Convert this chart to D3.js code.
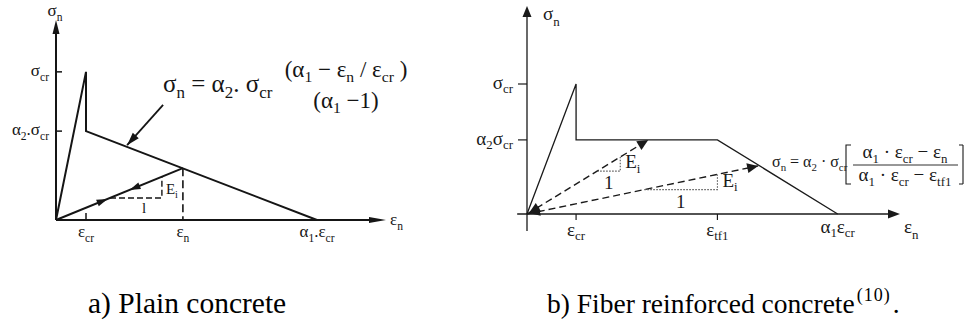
<!DOCTYPE html>
<html>
<head>
<meta charset="utf-8">
<script src="https://cdn.jsdelivr.net/npm/d3@7"></script>
<style>
  @font-face {
    font-family: 'RefSerif';
    src: local('Liberation Serif'), local('LiberationSerif'), local('LiberationSerif-Regular'), local('Tinos'), local('DejaVu Serif');
  }
</style>
</head>
<body style="margin:0">
<div id="chart"></div>
<script>
// strain in units of eps_cr, stress in units of sigma_cr

// a) plain concrete
const plainEnvX = [0, 1, 1, 8.7];
const plainEnvY = [0, 1, 0.6, 0];
const plainUnloadX = [0, 4.23];
const plainUnloadY = [0, 0.35];
const plainSlopeX = [1.8, 3.53];
const plainTickX = [1, 4.23, 8.7];
const plainTickXLabels = [['ε', 'cr'], ['ε', 'n'], ['α', '1', '.ε', 'cr']];
const plainTickY = [1, 0.6];
const plainTickYLabels = [['σ', 'cr'], ['α', '2', '.σ', 'cr']];

// b) fiber reinforced concrete
const fiberEnvX = [0, 1, 1, 3.88, 6.33];
const fiberEnvY = [0, 1, 0.57, 0.57, 0];
const fiberUnloadX = [2.47, 4.71];
const fiberUnloadY = [0.57, 0.37];
const fiberSlopeX = [[1.43, 1.9], [2.39, 3.88]];
const fiberTickX = [1, 3.88, 6.33];
const fiberTickXLabels = [['ε', 'cr'], ['ε', 'tf1'], ['α', '1', 'ε', 'cr']];
const fiberTickY = [1, 0.57];
const fiberTickYLabels = [['σ', 'cr'], ['α', '2', 'σ', 'cr']];

const FONT = "'Liberation Serif', 'RefSerif', serif";
const W = 964, H = 323;
const svg = d3.select('#chart').append('svg')
    .attr('width', W)
    .attr('height', H);

function txt(g, x, y, size) {
    return g.append('text')
        .attr('x', x).attr('y', y)
        .attr('font-size', size)
        .style('font-family', FONT);
}

// text with alternating normal / subscript parts: ['σ','cr'] -> σ_cr
function mathText(g, x, y, parts, size, anchor, subShift) {
    const t = txt(g, x, y, size).attr('text-anchor', anchor || 'start');
    let shift = 0;
    parts.forEach((s, i) => {
        const isSub = i % 2 === 1;
        const target = isSub ? size * (subShift || 0.3) : 0;
        t.append('tspan')
            .attr('dy', target - shift)
            .attr('font-size', isSub ? size * 0.68 : size)
            .text(s);
        shift = target;
    });
    return t;
}

function arrowHead(g, tip, from, len, halfW, color) {
    const dx = tip[0] - from[0], dy = tip[1] - from[1];
    const d = Math.hypot(dx, dy);
    const ux = dx / d, uy = dy / d;
    const bx = tip[0] - ux * len, by = tip[1] - uy * len;
    g.append('path')
        .attr('d', `M${tip[0]},${tip[1]}L${bx - uy * halfW},${by + ux * halfW}L${bx + uy * halfW},${by - ux * halfW}Z`)
        .attr('fill', color || '#111');
}

// ---------- panel a ----------
const gA = svg.append('g').attr('fill', '#151515');
const xA = d3.scaleLinear().domain([0, 11]).range([56, 386]);
const yA = d3.scaleLinear().domain([0, 1.35]).range([220, 20]);
const inkA = '#151515';

// axes
gA.append('line').attr('x1', xA(0)).attr('y1', yA(0)).attr('x2', xA(0)).attr('y2', yA(1.3))
    .attr('stroke', inkA).attr('stroke-width', 2);
arrowHead(gA, [xA(0), yA(1.35)], [xA(0), yA(0)], 14, 3.5, inkA);
gA.append('line').attr('x1', xA(0)).attr('y1', yA(0)).attr('x2', xA(10.8)).attr('y2', yA(0))
    .attr('stroke', inkA).attr('stroke-width', 2);
arrowHead(gA, [xA(11), yA(0)], [xA(0), yA(0)], 17, 3, inkA);

mathText(gA, xA(0) - 1, 16, ['σ', 'n'], 17, 'middle');
mathText(gA, xA(11) + 4, yA(0) + 5, ['ε', 'n'], 17, 'start');

// y ticks
plainTickY.forEach((v, i) => {
    gA.append('line').attr('x1', xA(0)).attr('x2', xA(0) + 6).attr('y1', yA(v)).attr('y2', yA(v))
        .attr('stroke', inkA).attr('stroke-width', 1.5);
    mathText(gA, xA(0) - 7, yA(v) + 4, plainTickYLabels[i], 17, 'end');
});
// x ticks / labels
gA.append('line').attr('x1', xA(plainTickX[0])).attr('x2', xA(plainTickX[0]))
    .attr('y1', yA(0)).attr('y2', yA(0) - 7).attr('stroke', inkA).attr('stroke-width', 1.5);
plainTickX.forEach((v, i) => {
    mathText(gA, xA(v), 237, plainTickXLabels[i], 17, 'middle');
});

// envelope
const lineA = d3.line().x(d => xA(d[0])).y(d => yA(d[1]));
gA.append('path')
    .attr('d', lineA(d3.zip(plainEnvX, plainEnvY)))
    .attr('fill', 'none').attr('stroke', inkA).attr('stroke-width', 2)
    .attr('stroke-linejoin', 'miter');

// unloading / reloading line
const unA = d3.zip(plainUnloadX, plainUnloadY);
gA.append('path').attr('d', lineA(unA))
    .attr('fill', 'none').attr('stroke', inkA).attr('stroke-width', 2);
const onUnA = x => plainUnloadY[1] * x / plainUnloadX[1];
arrowHead(gA, [xA(1.72), yA(onUnA(1.72))], [xA(0), yA(0)], 11, 3.5, inkA);
arrowHead(gA, [xA(2.45), yA(onUnA(2.45))], [xA(4.23), yA(onUnA(4.23))], 11, 3.5, inkA);

// dashed drop at eps_n
gA.append('line')
    .attr('x1', xA(plainUnloadX[1])).attr('x2', xA(plainUnloadX[1]))
    .attr('y1', yA(plainUnloadY[1])).attr('y2', yA(0))
    .attr('stroke', inkA).attr('stroke-width', 1.6).attr('stroke-dasharray', '8,4');

// slope triangle
const sA0 = [plainSlopeX[0], onUnA(plainSlopeX[0])];
gA.append('path')
    .attr('d', lineA([sA0, [plainSlopeX[1], sA0[1]], [plainSlopeX[1], onUnA(plainSlopeX[1])]]))
    .attr('fill', 'none').attr('stroke', inkA).attr('stroke-width', 1.4).attr('stroke-dasharray', '6,3');
mathText(gA, xA(plainSlopeX[1]) + 4, yA(sA0[1]) - 4, ['E', 'i'], 15, 'start', 0.25);
txt(gA, (xA(plainSlopeX[0]) + xA(plainSlopeX[1])) / 2 + 6, yA(sA0[1]) + 15, 15).text('l');

// pointer arrow to softening branch
const ptrTail = [3.57, 0.777], ptrHead = [2.37, 0.505];
gA.append('line').attr('x1', xA(ptrTail[0])).attr('y1', yA(ptrTail[1]))
    .attr('x2', xA(ptrHead[0])).attr('y2', yA(ptrHead[1]))
    .attr('stroke', inkA).attr('stroke-width', 1.8);
arrowHead(gA, [xA(ptrHead[0]), yA(ptrHead[1])], [xA(ptrTail[0]), yA(ptrTail[1])], 13, 4, inkA);

// formula a
mathText(gA, 163, 92, ['σ', 'n', ' = α', '2', '. σ', 'cr'], 25, 'start', 0.22);
mathText(gA, 346, 77, ['(α', '1', ' − ε', 'n', ' / ε', 'cr', ' )'], 23, 'middle', 0.2);
mathText(gA, 346, 108, ['(α', '1', ' −1)'], 23, 'middle', 0.2);

// ---------- panel b ----------
const gB = svg.append('g').attr('fill', '#1a1a1a');
const xB = d3.scaleLinear().domain([0, 7.6]).range([527, 900]);
const yB = d3.scaleLinear().domain([0, 1.6]).range([214, 6]);
const inkB = '#1a1a1a';
const lineB = d3.line().x(d => xB(d[0])).y(d => yB(d[1]));

// axes
gB.append('line').attr('x1', xB(0)).attr('y1', yB(-0.13)).attr('x2', xB(0)).attr('y2', yB(1.54))
    .attr('stroke', inkB).attr('stroke-width', 1.3);
arrowHead(gB, [xB(0), yB(1.6)], [xB(0), yB(0)], 11, 4.5, inkB);
gB.append('line').attr('x1', xB(-0.2)).attr('y1', yB(0)).attr('x2', xB(7.4)).attr('y2', yB(0))
    .attr('stroke', inkB).attr('stroke-width', 1.3);
arrowHead(gB, [xB(7.6), yB(0)], [xB(0), yB(0)], 12, 4.5, inkB);

mathText(gB, 543, 20, ['σ', 'n'], 19, 'start');
mathText(gB, 904, 233, ['ε', 'n'], 19, 'start');

fiberTickY.forEach((v, i) => {
    gB.append('line').attr('x1', xB(0) - 9).attr('x2', xB(0)).attr('y1', yB(v)).attr('y2', yB(v))
        .attr('stroke', inkB).attr('stroke-width', 1.2);
    mathText(gB, xB(0) - 14, yB(v) + 5, fiberTickYLabels[i], 19, 'end', 0.22);
});
fiberTickX.forEach((v, i) => {
    if (i < 2) {
        gB.append('line').attr('x1', xB(v)).attr('x2', xB(v)).attr('y1', yB(0)).attr('y2', yB(0) + 6)
            .attr('stroke', inkB).attr('stroke-width', 1.2);
    }
    mathText(gB, xB(v), i === 2 ? 233 : 236, fiberTickXLabels[i], 19, 'middle', 0.22);
});

// envelope
gB.append('path')
    .attr('d', lineB(d3.zip(fiberEnvX, fiberEnvY)))
    .attr('fill', 'none').attr('stroke', inkB).attr('stroke-width', 1.3);

// unloading lines (dashed, arrows at both ends)
fiberUnloadX.forEach((ux, i) => {
    const uy = fiberUnloadY[i];
    const tip = [xB(ux), yB(uy)], org = [xB(0), yB(0)];
    gB.append('line').attr('x1', org[0]).attr('y1', org[1]).attr('x2', tip[0]).attr('y2', tip[1])
        .attr('stroke', inkB).attr('stroke-width', 1.4).attr('stroke-dasharray', '7,4');
    arrowHead(gB, tip, org, 11, 5, inkB);
    arrowHead(gB, [org[0] + 2, org[1] - 1], tip, 11, 5, inkB);

    const onLine = x => uy * x / ux;
    const [sx0, sx1] = fiberSlopeX[i];
    gB.append('path')
        .attr('d', lineB([[sx0, onLine(sx0)], [sx1, onLine(sx0)], [sx1, onLine(sx1)]]))
        .attr('fill', 'none').attr('stroke', '#555').attr('stroke-width', 1.1).attr('stroke-dasharray', '1.5,1.5');
    mathText(gB, xB(sx1) + 5, yB(onLine(sx0)) - 3, ['E', 'i'], 19, 'start', 0.25);
    txt(gB, (xB(sx0) + xB(sx1)) / 2, yB(onLine(sx0)) + 18, 19)
        .attr('text-anchor', 'middle').text('1');
});

// formula b
mathText(gB, 772, 167, ['σ', 'n', ' = α', '2', ' · σ', 'cr'], 16, 'start', 0.25);
gB.append('path').attr('d', 'M851,145H846V184H851').attr('fill', 'none').attr('stroke', inkB).attr('stroke-width', 1.1);
gB.append('path').attr('d', 'M959,145H963M963,145V184M959,184H963').attr('fill', 'none').attr('stroke', inkB).attr('stroke-width', 1.1);
mathText(gB, 905, 158, ['α', '1', ' · ε', 'cr', ' − ε', 'n'], 19, 'middle', 0.25);
gB.append('line').attr('x1', 853).attr('x2', 958).attr('y1', 165).attr('y2', 165).attr('stroke', inkB).attr('stroke-width', 0.9);
mathText(gB, 905, 181, ['α', '1', ' · ε', 'cr', ' − ε', 'tf1'], 19, 'middle', 0.25);

// ---------- captions ----------
txt(svg, 88, 313, 29.5).text('a) Plain concrete');
const capB = txt(svg, 547, 313, 27.5);
capB.append('tspan').text('b) Fiber reinforced concrete');
capB.append('tspan').attr('font-size', 18).attr('dy', -12).attr('dx', 2).attr('letter-spacing', 1).text('(10)');
capB.append('tspan').attr('dy', 12).attr('dx', 2).text('.');
</script>
</body>
</html>
